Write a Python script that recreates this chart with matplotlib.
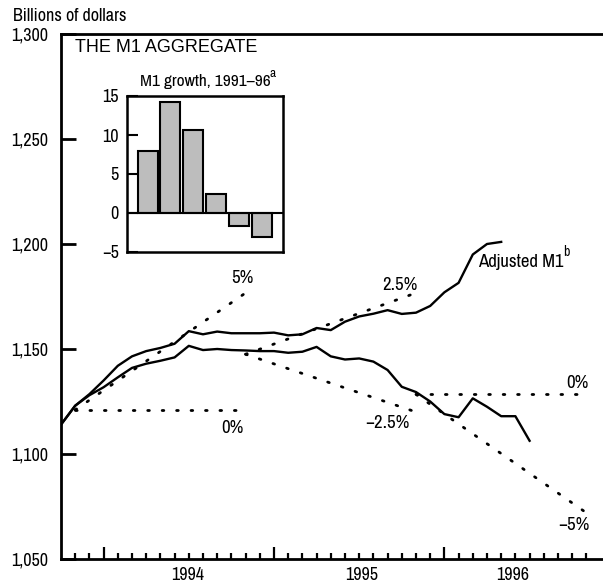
import matplotlib
matplotlib.use('Agg')
import matplotlib.pyplot as plt

NARROW = ['Archivo Narrow', 'Liberation Sans']
REG = ['Liberation Sans', 'DejaVu Sans']

# months counted from Oct 1993 (0 = left edge of chart)
adj_months = list(range(0, 32))
adj_m1 = [1114, 1123, 1128.5, 1135, 1142, 1146.5, 1149, 1150.5, 1152.5, 1158.5,
          1157, 1158.3, 1157.5, 1157.5, 1157.5, 1157.8, 1156.5, 1157, 1160, 1159,
          1163, 1165.5, 1166.8, 1168.5, 1166.7, 1167.3, 1170.5, 1177, 1181.5, 1195,
          1200, 1201]

m1_months = list(range(0, 34))
m1 = [1114, 1123, 1128, 1131.8, 1136.5, 1141, 1143, 1144.4, 1146, 1151.5,
      1149.5, 1150, 1149.5, 1149.3, 1149, 1149, 1148.2, 1148.7, 1151, 1146.5,
      1145, 1145.5, 1144, 1140, 1132, 1129.5, 1125, 1119, 1117.5, 1126.5,
      1122.5, 1118, 1118, 1106.3]

# growth cones: start month, start value, end month, end value
cone_x0 = [1, 1, 13, 13, 25, 25]
cone_y0 = [1121, 1121, 1147.5, 1147.5, 1128.4, 1128.4]
cone_x1 = [13, 13, 25, 25, 37, 37]
cone_y1 = [1121, 1176.7, 1176.7, 1120, 1128.4, 1072]

cone_labels = ['0%', '5%', '2.5%', '\u22122.5%', '0%', '\u22125%']
label_x = [12.1, 12.8, 23.9, 23.0, 36.4, 36.1]
label_y = [1112.4, 1183.8, 1180.5, 1114.8, 1133.8, 1066.2]

year_labels = ['1994', '1995', '1996']
year_pos = [8.95, 21.2, 31.8]

yticks = [1050, 1100, 1150, 1200, 1250, 1300]
ytick_labels = ['1,050', '1,100', '1,150', '1,200', '1,250', '1,300']

# inset: M1 growth 1991-96
growth = [8.0, 14.2, 10.6, 2.4, -1.7, -3.1]

fig = plt.figure(figsize=(6.03, 5.84), dpi=100)
ax = fig.add_axes([61 / 603, 25 / 584, 541 / 603, 525 / 584])

ax.plot(adj_months, adj_m1, color='black', lw=1.7, solid_joinstyle='round')
ax.plot(m1_months, m1, color='black', lw=1.7, solid_joinstyle='round')

for x0, y0, x1, y1 in zip(cone_x0, cone_y0, cone_x1, cone_y1):
    ax.plot([x0, x1], [y0, y1], color='black', lw=2.0,
            linestyle=(0, (0.6, 4.6)), dash_capstyle='round')

for t, x, y in zip(cone_labels, label_x, label_y):
    ax.text(x, y, t, ha='center', va='center', fontsize=13.5, family=NARROW)

adj = ax.text(29.4, 1191.4, 'Adjusted M1', ha='left', va='center', fontsize=13.5, family=NARROW)
ax.annotate('b', xy=(0.995, 0.7), xycoords=adj, ha='left', va='bottom',
            fontsize=10, family=NARROW)

ax.text(1.0, 1293.5, 'THE M1 AGGREGATE', ha='left', va='center', fontsize=13, family=REG)

ax.set_xlim(0, 38.1)
ax.set_ylim(1050, 1300)
ax.set_yticks(yticks)
ax.set_yticklabels(ytick_labels, family=NARROW, fontsize=13)
ax.tick_params(axis='y', direction='in', length=11, width=2, pad=9)

ax.set_xticks(range(1, 38), minor=True)
ax.set_xticks([3, 15, 27])
ax.set_xticklabels([])
ax.tick_params(axis='x', which='minor', direction='in', length=4, width=1.6)
ax.tick_params(axis='x', which='major', direction='in', length=9, width=1.6)
for t, x in zip(year_labels, year_pos):
    ax.text(x, 1050 - 7.5, t, ha='center', va='center', fontsize=13, family=NARROW)

for s in ['left', 'bottom', 'top']:
    ax.spines[s].set_linewidth(2)
ax.spines['right'].set_visible(False)

ax.text(-0.088, 1.035, 'Billions of dollars', transform=ax.transAxes, ha='left',
        va='center', fontsize=13, family=NARROW)

# inset bar chart
ins = fig.add_axes([127 / 603, 332 / 584, 156 / 603, 156 / 584])
ins.bar(range(len(growth)), growth, width=0.88, color='#bdbdbd',
        edgecolor='black', linewidth=1.5)
ins.axhline(0, color='black', lw=1.5)
ins.set_xlim(-0.9, 5.93)
ins.set_ylim(-5, 15)
ins.set_xticks([])
ins.set_yticks([-5, 0, 5, 10, 15])
ins.set_yticklabels(['\u22125', '0', '5', '10', '15'], family=NARROW, fontsize=13)
ins.tick_params(axis='y', direction='in', length=8, width=1.5, pad=6)
for s in ins.spines.values():
    s.set_linewidth(1.8)
ttl = ins.text(0.5, 1.09, 'M1 growth, 1991\u201396', transform=ins.transAxes,
               ha='center', va='center', fontsize=12.5, family=NARROW)
ins.annotate('a', xy=(0.99, 0.7), xycoords=ttl, ha='left', va='bottom',
             fontsize=9.5, family=NARROW)

fig.savefig('out.png', dpi=100)
